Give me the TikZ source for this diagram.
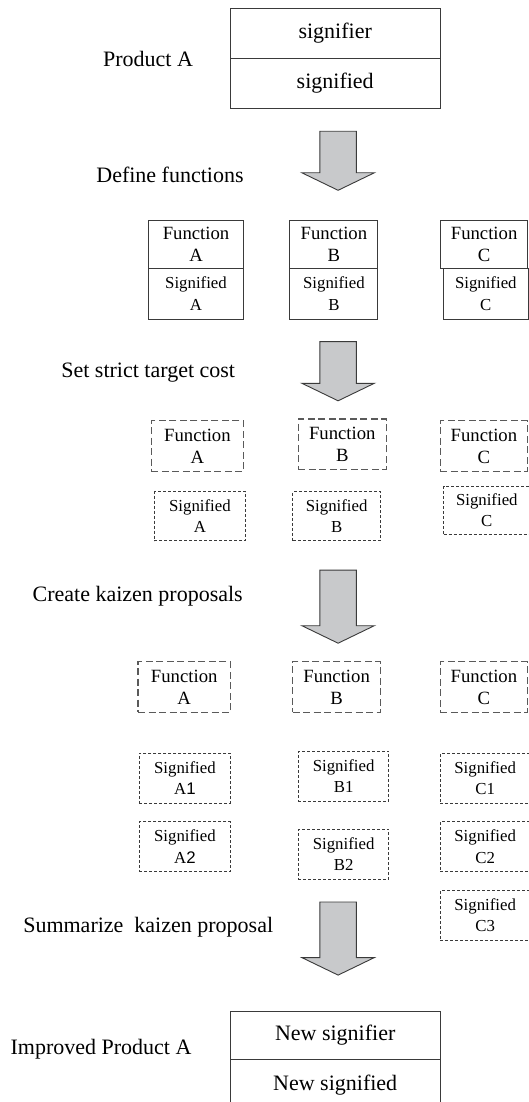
\documentclass[tikz,border=0pt]{standalone}
\usepackage{fontspec}
\setmainfont{Liberation Serif}
\setsansfont{Liberation Sans}

\definecolor{arrowgray}{HTML}{C8C9CB}
\definecolor{linegray}{HTML}{3A3A3A}
\definecolor{dashgray}{HTML}{5A5A5A}

% block arrow: centre x, top y, tip y
\newcommand{\grayarrow}[3]{%
    \draw[blockarrow] (#1-18.2,#2) -- (#1+18.2,#2) -- (#1+18.2,#3-17.5)
        -- (#1+36.2,#3-17.5) -- (#1,#3) -- (#1-36.2,#3-17.5)
        -- (#1-18.2,#3-17.5) -- cycle;}

\tikzset{
    stagelabel/.style={font=\fontsize{22}{26}\selectfont},
    bigbox/.style={draw=linegray,line width=1pt,inner sep=0pt,minimum width=210.4pt,font=\fontsize{22}{26}\selectfont},
    funcbox/.style={draw=linegray,line width=1pt,inner sep=0pt,align=center,font=\fontsize{18.7}{22}\selectfont},
    sigbox/.style={draw=linegray,line width=1pt,inner sep=0pt,align=center,font=\fontsize{16.8}{21.5}\selectfont},
    dashfunc/.style={funcbox,draw=dashgray,line width=1.2pt,dash pattern=on 7pt off 3.5pt},
    dashsig/.style={sigbox,line width=0.9pt,dash pattern=on 3pt off 2pt},
    blockarrow/.style={draw=linegray,fill=arrowgray,line width=0.9pt}
}

\begin{document}
\begin{tikzpicture}[x=1pt,y=-1pt]
    \useasboundingbox (0,0) rectangle (528,1102);

    % Product A
    \node[bigbox,minimum height=50.2pt] (sigr) at (335.2,33.2) {signifier};
    \node[bigbox,minimum height=49.8pt] (sigd) at (335.2,83.2) {signified};
    \node[stagelabel] (prodA) at (148,58.9) {Product A};

    \grayarrow{338.1}{131.3}{190.3}
    \node[stagelabel] (defFun) at (170,175.1) {Define functions};

    % Functions
    \begin{scope}[every node/.style={minimum height=47.9pt}]
        \node[funcbox,minimum width=95pt] (funA) at (196,244.6) {Function\\A};
        \node[funcbox,minimum width=87.9pt] (funB) at (333.9,244.6) {Function\\B};
        \node[funcbox,minimum width=87.3pt] (funC) at (484.1,244.6) {Function\\C};
    \end{scope}
    \begin{scope}[every node/.style={minimum height=50.5pt}]
        \node[sigbox,minimum width=95pt] (sigA) at (196,293.8) {Signified\\A};
        \node[sigbox,minimum width=87.9pt] (sigB) at (333.9,293.8) {Signified\\B};
        \node[sigbox,minimum width=84.5pt] (sigC) at (485.8,293.8) {Signified\\C};
    \end{scope}

    \grayarrow{338.1}{341.6}{400.8}
    \node[stagelabel] (setCost) at (148.2,372.9) {Set strict target cost};

    % Target cost
    \begin{scope}[every node/.style={minimum height=50.5pt}]
        \node[dashfunc,minimum width=92.3pt] (tfunA) at (197.4,446) {Function\\A};
        \node[dashfunc,minimum width=87.9pt] (tfunB) at (342.3,444.3) {Function\\B};
        \node[dashfunc,minimum width=86.9pt] (tfunC) at (483.9,446) {Function\\C};
    \end{scope}
    \begin{scope}[every node/.style={minimum height=48.7pt}]
        \node[dashsig,minimum width=91.3pt] (tsigA) at (199.9,516.2) {Signified\\A};
        \node[dashsig,minimum width=87.6pt] (tsigB) at (336.7,516.2) {Signified\\B};
        \node[dashsig,minimum width=86.5pt,minimum height=47.4pt] (tsigC) at (486.8,510.4) {Signified\\C};
    \end{scope}

    \grayarrow{338.1}{570.1}{643.2}
    \node[stagelabel] (mkKaizen) at (137.7,596.1) {Create kaizen proposals};

    % Kaizen proposals
    \begin{scope}[every node/.style={minimum height=50.5pt}]
        \node[dashfunc,minimum width=92.3pt] (kfunA) at (184.2,687) {Function\\A};
        \node[dashfunc,minimum width=87.9pt] (kfunB) at (336.6,687) {Function\\B};
        \node[dashfunc,minimum width=86.9pt] (kfunC) at (483.9,687) {Function\\C};
    \end{scope}
    \begin{scope}[every node/.style={minimum height=50pt}]
        \node[dashsig,minimum width=90.9pt] (ksigA1) at (184.9,778.2) {Signified\\A{\sffamily 1}};
        \node[dashsig,minimum width=90.6pt] (ksigB1) at (343.6,776.3) {Signified\\B1};
        \node[dashsig,minimum width=89.6pt] (ksigC1) at (485.2,778.2) {Signified\\C1};
        \node[dashsig,minimum width=90.9pt] (ksigA2) at (184.9,846.6) {Signified\\A{\sffamily 2}};
        \node[dashsig,minimum width=90.6pt] (ksigB2) at (343.6,854.1) {Signified\\B2};
        \node[dashsig,minimum width=89.6pt] (ksigC2) at (485.2,846.6) {Signified\\C2};
        \node[dashsig,minimum width=89.6pt] (ksigC3) at (485.2,915.2) {Signified\\C3};
    \end{scope}

    \grayarrow{338.1}{902}{975.1}
    \node[stagelabel] (sumKaizen) at (148.2,927.3) {Summarize\ \ kaizen proposal};

    % Improved Product A
    \node[bigbox,minimum height=48.2pt] (newSigr) at (335.2,1035.5) {New signifier};
    \node[bigbox,minimum height=50.4pt] (newSigd) at (335.2,1084.8) {New signified};
    \node[stagelabel] (impProd) at (101,1049.2) {Improved Product A};
\end{tikzpicture}
\end{document}
